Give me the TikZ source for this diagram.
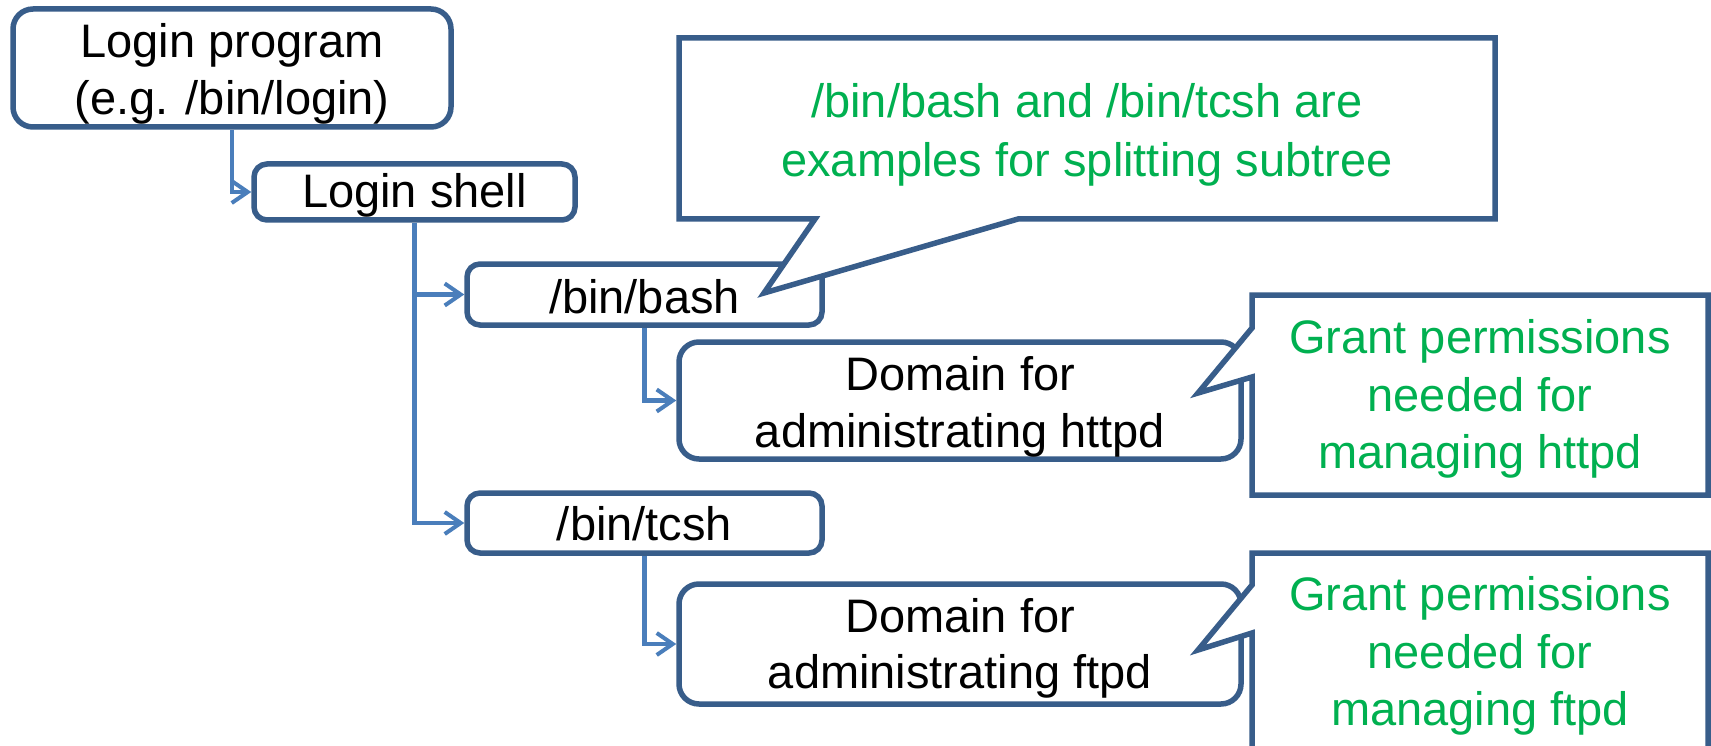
\documentclass[tikz,border=0pt]{standalone}
\usepackage{fontspec}
\setmainfont{Liberation Sans}
\usetikzlibrary{arrows.meta}
\definecolor{boxc}{HTML}{385D8A}
\definecolor{linec}{HTML}{4A7EBB}
\definecolor{greenc}{HTML}{00B050}
\tikzset{
  box/.style={draw=boxc, line width=5.5pt, fill=white, inner sep=0pt},
  txt/.style={anchor=base, inner sep=0pt, font=\fontsize{47}{57}\selectfont},
  gtxt/.style={txt, text=greenc},
  conn/.style={draw=linec, line width=4.2pt, -{Straight Barb[length=16pt,width=22pt,line width=4pt]}},
  callout/.style={draw=boxc, line width=5.5pt, fill=white, line join=miter},
}
\begin{document}
\begin{tikzpicture}[x=1pt,y=-1pt]
\useasboundingbox (0,0) rectangle (1711,746);
\fill[white] (0,0) rectangle (1711,746);

% boxes
\node[box, rounded corners=20pt, minimum width=438pt, minimum height=118pt] (login) at (232,68) {};
\node[box, rounded corners=13pt, minimum width=321pt, minimum height=56pt] (shell) at (414.5,192) {};
\node[box, rounded corners=13pt, minimum width=355pt, minimum height=61pt] (bash) at (644.5,294.5) {};
\node[box, rounded corners=20pt, minimum width=562pt, minimum height=117pt] (httpd) at (960,400.5) {};
\node[box, rounded corners=13pt, minimum width=355pt, minimum height=60pt] (tcsh) at (644.5,523) {};
\node[box, rounded corners=20pt, minimum width=562pt, minimum height=120pt] (ftpd) at (960,644) {};

% connectors
\draw[conn] (login.south) |- (shell.west);
\draw[conn] (shell.south) |- (bash.west);
\draw[conn] (shell.south) |- (tcsh.west);
\draw[conn] (bash.south) |- (httpd.west);
\draw[conn] (tcsh.south) |- (ftpd.west);

% callouts
\draw[callout] (679,38) -- (1495,38) -- (1495,219) -- (1018,219) -- (764,293) -- (815,219) -- (679,219) -- cycle;
\draw[callout] (1252,295) -- (1708,295) -- (1708,495) -- (1252,495) -- (1252,377) -- (1198,393) -- (1252,328) -- cycle;
\begin{scope}
  \clip (0,0) rectangle (1711,746);
  \draw[callout] (1252,553) -- (1708,553) -- (1708,770) -- (1252,770) -- (1252,633) -- (1198,650) -- (1252,585) -- cycle;
\end{scope}

% texts
\node[txt] (logint1) at (232,58) {Login program};
\node[txt] (logint2) at (232,115) {(e.g. /bin/login)};
\node[txt] (shellt) at (414.5,208) {Login shell};
\node[txt] (basht) at (644.5,313) {/bin/bash};
\node[txt] (tcsht) at (644.5,540) {/bin/tcsh};
\node[txt] (httpdt1) at (960,390) {Domain for};
\node[txt] (httpdt2) at (960,447) {administrating httpd};
\node[txt] (ftpdt1) at (960,632) {Domain for};
\node[txt] (ftpdt2) at (960,688) {administrating ftpd};

\node[gtxt] (topt1) at (1087,118) {/bin/bash and /bin/tcsh are};
\node[gtxt] (topt2) at (1087,177) {examples for splitting subtree};
\node[gtxt] (ht1) at (1480,353) {Grant permissions};
\node[gtxt] (ht2) at (1480,411) {needed for};
\node[gtxt] (ht3) at (1480,468) {managing httpd};
\node[gtxt] (ft1) at (1480,610) {Grant permissions};
\node[gtxt] (ft2) at (1480,668) {needed for};
\node[gtxt] (ft3) at (1480,725) {managing ftpd};
\end{tikzpicture}
\end{document}
